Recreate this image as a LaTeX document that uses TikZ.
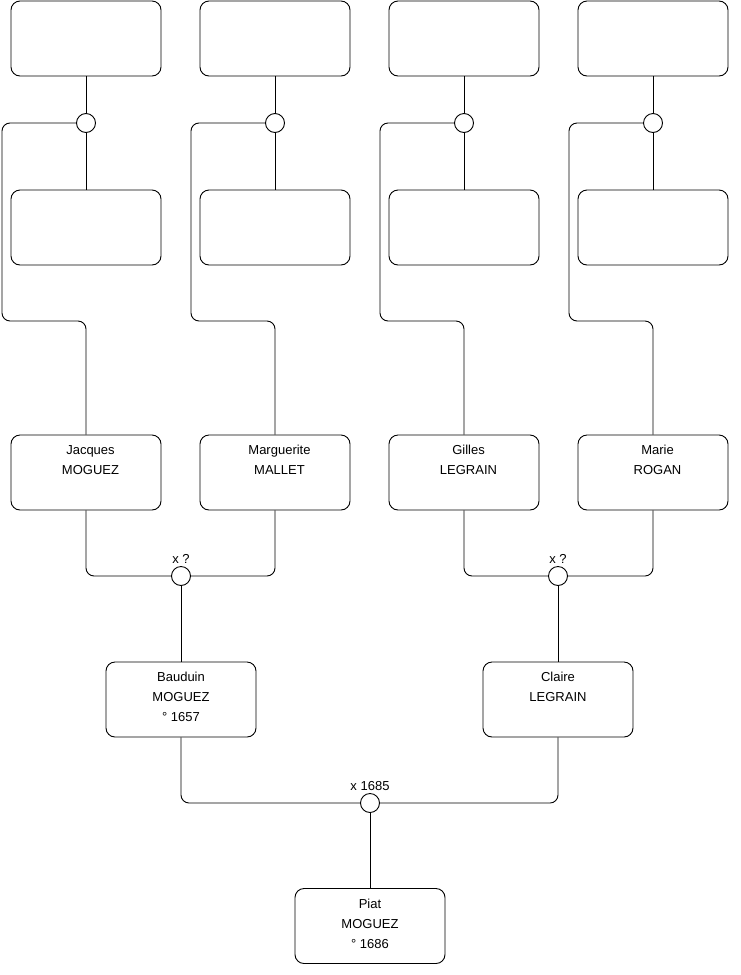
\documentclass[tikz,border=0pt]{standalone}
\usepackage{fontspec}
\setmainfont{Liberation Sans}
\usetikzlibrary{positioning}

\newcommand{\who}[2][0pt]{\parbox[c][75pt][t]{150pt}{\centering\leftskip=#1 plus 1fil
  \fontsize{13}{20}\selectfont\rule{0pt}{19.5pt}#2}}

\begin{document}
\begin{tikzpicture}[
    x=1pt, y=-1pt,
    person/.style={draw, rounded corners=9pt, line width=0.9pt, inner sep=0pt,
                   minimum width=150pt, minimum height=75pt},
    union/.style={draw, circle, line width=0.9pt, inner sep=0pt, minimum size=19pt,
                  fill=white, label distance=0pt},
    every label/.style={font=\fontsize{13}{15}\selectfont, inner sep=2pt},
    link/.style={line width=0.9pt, rounded corners=8pt}
]
\useasboundingbox (0,0) rectangle (740,975);
% Row 1: fathers (unknown)
\node[person] (jacquesF) at (86,38.5) {};
\node[person] (margueriteF) at (275,38.5) {};
\node[person] (gillesF) at (464,38.5) {};
\node[person] (marieF) at (653,38.5) {};
% Row 2: mothers (unknown)
\node[person] (jacquesM) at (86,227.5) {};
\node[person] (margueriteM) at (275,227.5) {};
\node[person] (gillesM) at (464,227.5) {};
\node[person] (marieM) at (653,227.5) {};
% Unions of row 1 and row 2
\node[union] (jacquesX) at (86,123) {};
\node[union] (margueriteX) at (275,123) {};
\node[union] (gillesX) at (464,123) {};
\node[union] (marieX) at (653,123) {};
% Row 3: grandparents
\node[person] (jacques) at (86,472.5) {\who[9pt]{Jacques\\MOGUEZ}};
\node[person] (marguerite) at (275,472.5) {\who[9pt]{Marguerite\\MALLET}};
\node[person] (gilles) at (464,472.5) {\who[9pt]{Gilles\\LEGRAIN}};
\node[person] (marie) at (653,472.5) {\who[9pt]{Marie\\ROGAN}};
\node[union, label={above:x ?}] (x1) at (181,576) {};
\node[union, label={above:x ?}] (x2) at (558,576) {};
% Row 4: parents
\node[person] (bauduin) at (181,699.5) {\who{Bauduin\\MOGUEZ\\° 1657}};
\node[person] (claire) at (558,699.5) {\who{Claire\\LEGRAIN}};
\node[union, label={above:x 1685}] (x3) at (370,803) {};
% Row 5: child
\node[person] (piat) at (370,926) {\who{Piat\\MOGUEZ\\° 1686}};
% Links
\draw[link] (jacquesF) -- (jacquesX) -- (jacquesM);
\draw[link] (margueriteF) -- (margueriteX) -- (margueriteM);
\draw[link] (gillesF) -- (gillesX) -- (gillesM);
\draw[link] (marieF) -- (marieX) -- (marieM);
\draw[link] (jacquesX.west) -| (2,321) -| (jacques.north);
\draw[link] (margueriteX.west) -| (191,321) -| (marguerite.north);
\draw[link] (gillesX.west) -| (380,321) -| (gilles.north);
\draw[link] (marieX.west) -| (569,321) -| (marie.north);
\draw[link] (jacques.south) |- (x1.west);
\draw[link] (marguerite.south) |- (x1.east);
\draw[link] (gilles.south) |- (x2.west);
\draw[link] (marie.south) |- (x2.east);
\draw[link] (x1) -- (bauduin);
\draw[link] (x2) -- (claire);
\draw[link] (bauduin.south) |- (x3.west);
\draw[link] (claire.south) |- (x3.east);
\draw[link] (x3) -- (piat);
\end{tikzpicture}
\end{document}
